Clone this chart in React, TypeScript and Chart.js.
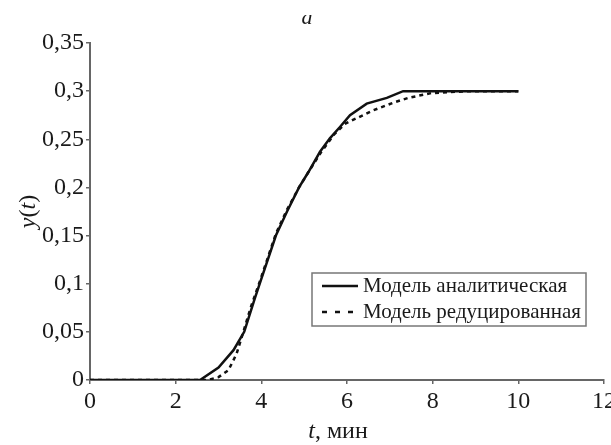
import React, { useEffect, useRef } from "react";
import { Chart, registerables } from "chart.js";

Chart.register(...registerables);

const analyticT = [0, 2.57, 3.0, 3.35, 3.6, 3.85, 4.0, 4.34, 4.6, 4.88, 5.1, 5.37, 5.6, 5.84, 6.07, 6.46, 6.93, 7.31, 10];
const analyticY = [0, 0, 0.013, 0.031, 0.05, 0.085, 0.105, 0.15, 0.175, 0.2, 0.216, 0.237, 0.251, 0.263, 0.275, 0.287, 0.293, 0.3, 0.3];

const reducedT = [0, 2.75, 3.0, 3.23, 3.42, 3.56, 3.75, 4.0, 4.34, 4.6, 4.88, 5.1, 5.4, 5.7, 5.95, 6.23, 6.61, 7.08, 7.43, 7.97, 8.85, 10];
const reducedY = [0, 0, 0.003, 0.01, 0.027, 0.047, 0.075, 0.107, 0.152, 0.177, 0.2, 0.216, 0.237, 0.255, 0.266, 0.272, 0.28, 0.288, 0.293, 0.298, 0.3, 0.3];

const seriesLabels = ["Модель аналитическая", "Модель редуцированная"];

const xTickValues = [0, 2, 4, 6, 8, 10, 12];
const xTickLabels = ["0", "2", "4", "6", "8", "10", "12"];
const yTickValues = [0, 0.05, 0.1, 0.15, 0.2, 0.25, 0.3, 0.35];
const yTickLabels = ["0", "0,05", "0,1", "0,15", "0,2", "0,25", "0,3", "0,35"];

const FONT = "'Liberation Serif', 'DejaVu Serif', serif";

type Part = { text: string; italic?: boolean };

function drawParts(ctx: CanvasRenderingContext2D, parts: Part[], size: number, cx: number, cy: number) {
  let total = 0;
  const widths = parts.map((p) => {
    ctx.font = `${p.italic ? "italic " : ""}${size}px ${FONT}`;
    const w = ctx.measureText(p.text).width;
    total += w;
    return w;
  });
  let x = cx - total / 2;
  ctx.textBaseline = "middle";
  ctx.textAlign = "left";
  parts.forEach((p, i) => {
    ctx.font = `${p.italic ? "italic " : ""}${size}px ${FONT}`;
    ctx.fillText(p.text, x, cy);
    x += widths[i];
  });
}

const legendDashes = [[], [5, 8]];

const decorPlugin = {
  id: "decor",
  afterDraw(chart: any) {
    const ctx: CanvasRenderingContext2D = chart.ctx;
    const area = chart.chartArea;
    ctx.save();
    ctx.fillStyle = "#1a1a1a";
    // title "a" (cropped at top)
    ctx.save();
    ctx.beginPath();
    ctx.rect(0, 15, chart.width, 40);
    ctx.clip();
    ctx.font = `italic 22px ${FONT}`;
    ctx.textAlign = "center";
    ctx.textBaseline = "alphabetic";
    ctx.fillText("a", 307, 24);
    ctx.restore();

    // x axis title
    drawParts(ctx, [{ text: "t", italic: true }, { text: ", мин" }], 24, (area.left + area.right) / 2 - 9, 432);

    // y axis title (rotated)
    ctx.save();
    ctx.translate(29, (area.top + area.bottom) / 2);
    ctx.rotate(-Math.PI / 2);
    drawParts(ctx, [{ text: "y", italic: true }, { text: "(" }, { text: "t", italic: true }, { text: ")" }], 24, 0, 0);
    ctx.restore();

    // legend
    const bx = 312, by = 273, bw = 274, bh = 53;
    ctx.strokeStyle = "#777";
    ctx.lineWidth = 1.5;
    ctx.strokeRect(bx, by, bw, bh);
    const rows = [by + 13, by + 39];
    chart.data.datasets.forEach((ds: any, i: number) => {
      ctx.save();
      ctx.strokeStyle = ds.borderColor;
      ctx.lineWidth = ds.borderWidth;
      ctx.setLineDash(legendDashes[i]);
      ctx.beginPath();
      ctx.moveTo(bx + 10, rows[i]);
      ctx.lineTo(bx + 46, rows[i]);
      ctx.stroke();
      ctx.restore();
      ctx.fillStyle = "#1a1a1a";
      ctx.font = `21px ${FONT}`;
      ctx.textAlign = "left";
      ctx.textBaseline = "middle";
      ctx.fillText(ds.label, bx + 51, rows[i]);
    });
    ctx.restore();
  },
};

export default function App() {
  const ref = useRef<HTMLCanvasElement | null>(null);
  useEffect(() => {
    document.body.style.margin = "0";
    const canvas = ref.current;
    if (!canvas) return;
    const chart = new Chart(canvas, {
      type: "line",
      data: {
        datasets: [
          {
            label: seriesLabels[0],
            data: analyticT.map((t, i) => ({ x: t, y: analyticY[i] })),
            borderColor: "#111",
            borderWidth: 2.5,
            pointRadius: 0,
            tension: 0,
            fill: false,
          },
          {
            label: seriesLabels[1],
            data: reducedT.map((t, i) => ({ x: t, y: reducedY[i] })),
            borderColor: "#111",
            borderWidth: 2.5,
            borderDash: [4, 4],
            pointRadius: 0,
            tension: 0,
            fill: false,
          },
        ],
      },
      options: {
        responsive: false,
        animation: false,
        layout: { padding: { top: 43, right: 7, bottom: 0, left: 0 } },
        plugins: { legend: { display: false }, tooltip: { enabled: false }, title: { display: false } },
        scales: {
          x: {
            type: "linear",
            min: 0,
            max: 12,
            afterBuildTicks: (s: any) => {
              s.ticks = xTickValues.map((v) => ({ value: v }));
            },
            afterFit: (s: any) => {
              s.height = 65;
              s.paddingLeft = 0;
              s.paddingRight = 0;
            },
            grid: { drawOnChartArea: false, drawTicks: true, tickLength: 4, color: "#666", lineWidth: 1.5 },
            border: { display: true, color: "#666", width: 2 },
            ticks: {
              color: "#1a1a1a",
              font: { family: FONT, size: 24 },
              padding: 3,
              maxRotation: 0,
              autoSkip: false,
              callback: (_v: any, i: number) => xTickLabels[i],
            },
          },
          y: {
            type: "linear",
            min: 0,
            max: 0.35,
            afterBuildTicks: (s: any) => {
              s.ticks = yTickValues.map((v) => ({ value: v }));
            },
            afterFit: (s: any) => {
              s.width = 90;
              s.paddingTop = 0;
              s.paddingBottom = 0;
            },
            grid: { drawOnChartArea: false, drawTicks: true, tickLength: 4, color: "#666", lineWidth: 1.5 },
            border: { display: true, color: "#666", width: 2 },
            ticks: {
              color: "#1a1a1a",
              font: { family: FONT, size: 24 },
              padding: 2,
              autoSkip: false,
              callback: (_v: any, i: number) => yTickLabels[i],
            },
          },
        },
      },
      plugins: [decorPlugin],
    });
    return () => chart.destroy();
  }, []);
  return (
    <div style={{ position: "fixed", left: 0, top: 0, width: 611, height: 445, background: "#fff" }}>
      <canvas ref={ref} width={611} height={445} />
    </div>
  );
}
